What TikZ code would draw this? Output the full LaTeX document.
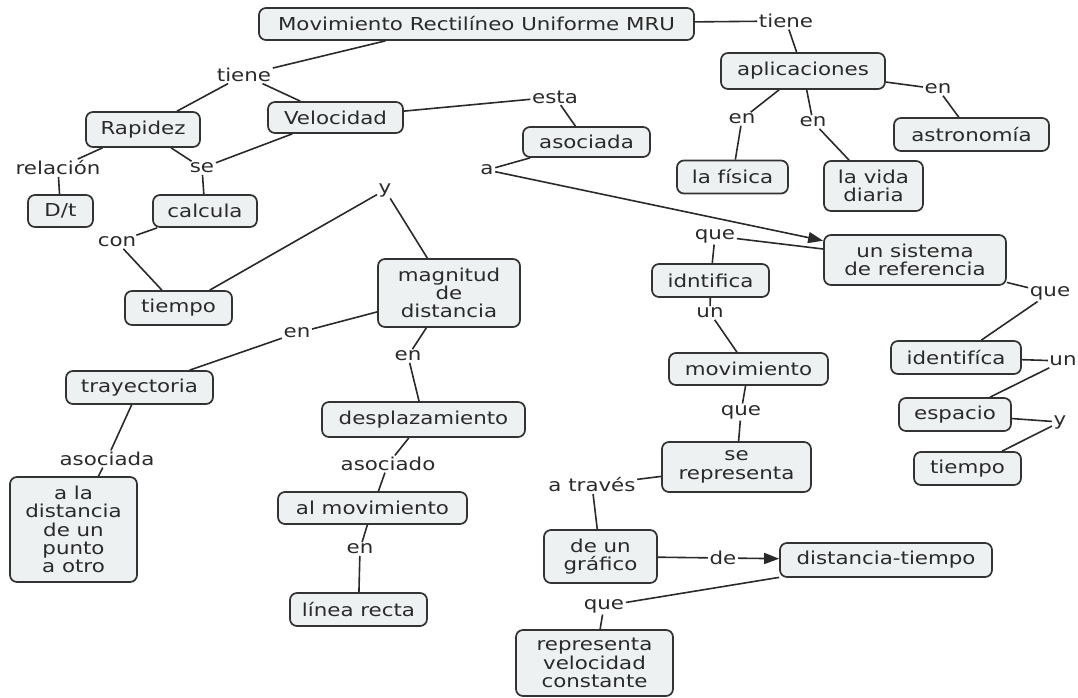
\documentclass[tikz,border=0pt]{standalone}
\usepackage{fontspec}
\setmainfont{DejaVu Sans}[FakeStretch=1.2]
\usetikzlibrary{arrows.meta}

\definecolor{ink}{HTML}{2A2A2A}
\definecolor{boxline}{HTML}{333333}
\definecolor{boxfill}{HTML}{EDF1F1}

\tikzset{
  mapfont/.style={font=\fontsize{17.8}{18.3}\selectfont, text=ink},
  concept/.style={mapfont, draw=boxline, fill=boxfill, line width=1.7pt,
    rounded corners=7pt, align=center, inner sep=2pt},
  phrase/.style={mapfont, inner sep=1.5pt},
  link/.style={draw=ink, line width=1.6pt},
  arrowlink/.style={-{Triangle[length=15pt,width=11pt]}}
}

\begin{document}
\begin{tikzpicture}[x=1pt, y=-1pt]
\useasboundingbox (0,0) rectangle (1078,698);

% ---- concepts ----
\node[concept, minimum width=435pt, minimum height=32pt] (mru) at (476.5,24) {Movimiento Rectilíneo Uniforme MRU};
\node[concept, minimum width=164pt, minimum height=36pt] (apl) at (803,71) {aplicaciones};
\node[concept, minimum width=155pt, minimum height=33pt] (astro) at (971.5,134.5) {astronomía};
\node[concept, minimum width=111pt, minimum height=33pt] (fisica) at (732.5,177) {la física};
\node[concept, minimum width=99pt, minimum height=50pt] (vida) at (873.5,186) {la vida\\diaria};
\node[concept, minimum width=114pt, minimum height=35pt] (rapidez) at (143,129.5) {Rapidez};
\node[concept, minimum width=135pt, minimum height=31pt] (velocidad) at (335.5,117.5) {Velocidad};
\node[concept, minimum width=65pt, minimum height=32pt] (dt) at (60.5,211) {D/t};
\node[concept, minimum width=104pt, minimum height=32pt] (calcula) at (205,211) {calcula};
\node[concept, minimum width=127pt, minimum height=30pt] (asociadaC) at (586.5,142) {asociada};
\node[concept, minimum width=107pt, minimum height=34pt] (tiempoL) at (178.5,308) {tiempo};
\node[concept, minimum width=142pt, minimum height=68pt] (magnitud) at (449,293) {magnitud\\de\\distancia};
\node[concept, minimum width=147pt, minimum height=33pt] (trayectoria) at (139.5,387.5) {trayectoria};
\node[concept, minimum width=203pt, minimum height=35pt] (despl) at (423.5,419.5) {desplazamiento};
\node[concept, minimum width=127pt, minimum height=105pt] (dist) at (73.5,529.5) {a la\\distancia\\de un\\punto\\a otro};
\node[concept, minimum width=189pt, minimum height=32pt] (almov) at (372.5,508) {al movimiento};
\node[concept, minimum width=137pt, minimum height=33pt] (linea) at (358.5,609.5) {línea recta};
\node[concept, minimum width=182pt, minimum height=50pt] (sistema) at (915,260) {un sistema\\de referencia};
\node[concept, minimum width=117pt, minimum height=33pt] (idntifica) at (710.5,280.5) {idntifica};
\node[concept, minimum width=159pt, minimum height=32pt] (movimiento) at (748.5,369) {movimiento};
\node[concept, minimum width=149pt, minimum height=50pt] (serep) at (736.5,467) {se\\representa};
\node[concept, minimum width=113pt, minimum height=53pt] (grafico) at (600.5,556.5) {de un\\gráfico};
\node[concept, minimum width=212pt, minimum height=34pt] (disttiempo) at (886,560) {distancia-tiempo};
\node[concept, minimum width=157pt, minimum height=66pt] (repvel) at (594.5,663) {representa\\velocidad\\constante};
\node[concept, minimum width=130pt, minimum height=33pt] (identifica) at (956,357.5) {identifíca};
\node[concept, minimum width=112pt, minimum height=33pt] (espacio) at (955,414.5) {espacio};
\node[concept, minimum width=107pt, minimum height=33pt] (tiempoR) at (967.5,468.5) {tiempo};

% ---- linking phrases ----
\node[phrase] (tieneL) at (244,75) {tiene};
\node[phrase] (tieneR) at (786,21) {tiene};
\node[phrase] (enL) at (742,119) {en};
\node[phrase] (enM) at (813,122) {en};
\node[phrase] (enR) at (938,89) {en};
\node[phrase] (esta) at (555,97) {esta};
\node[phrase] (aLbl) at (487,170) {a};
\node[phrase] (relacion) at (58,168) {relación};
\node[phrase] (se) at (202,168) {se};
\node[phrase] (con) at (117,242) {con};
\node[phrase] (yTop) at (385,190) {y};
\node[phrase] (enA) at (297,333) {en};
\node[phrase] (enB) at (408,356) {en};
\node[phrase] (asociadaL) at (107,459) {asociada};
\node[phrase] (asociado) at (388,464) {asociado};
\node[phrase] (enC) at (360,549) {en};
\node[phrase] (queTop) at (715,236) {que};
\node[phrase] (un1) at (710,313) {un};
\node[phrase] (que2) at (741,412) {que};
\node[phrase] (atraves) at (592,485) {a través};
\node[phrase] (de) at (723,558) {de};
\node[phrase] (queBot) at (604,606) {que};
\node[phrase] (queR) at (1050,293) {que};
\node[phrase] (unR) at (1063,361) {un};
\node[phrase] (yR) at (1060,422) {y};

% ---- connectors ----
\draw[link] ([xshift=-91pt]mru.south) -- (tieneL);
\draw[link] (tieneL) -- (rapidez);
\draw[link] (tieneL) -- (velocidad);
\draw[link] (mru) -- (tieneR);
\draw[link] (tieneR) -- (apl);
\draw[link] (apl) -- (enL);
\draw[link] (enL) -- (fisica);
\draw[link] (apl) -- (enM);
\draw[link] (enM) -- (vida);
\draw[link] (apl) -- (enR);
\draw[link] (enR) -- (astro);
\draw[link] (velocidad) -- (esta);
\draw[link] (esta) -- (asociadaC);
\draw[link] (asociadaC) -- (aLbl);
\draw[link, arrowlink] (aLbl) -- (sistema);
\draw[link] (rapidez) -- (relacion);
\draw[link] (relacion) -- (dt);
\draw[link] (rapidez) -- (se);
\draw[link] (velocidad) -- (se);
\draw[link] (se) -- (calcula);
\draw[link] (calcula) -- (con);
\draw[link] (con) -- (tiempoL);
\draw[link] (tiempoL) -- (yTop);
\draw[link] (yTop) -- (magnitud);
\draw[link] (magnitud) -- (enA);
\draw[link] (enA) -- (trayectoria);
\draw[link] (magnitud) -- (enB);
\draw[link] (enB) -- (despl);
\draw[link] (trayectoria) -- (asociadaL);
\draw[link] (asociadaL) -- ([xshift=25pt]dist.north);
\draw[link] (despl) -- (asociado);
\draw[link] (asociado) -- (almov);
\draw[link] (almov) -- (enC);
\draw[link] (enC) -- (linea);
\draw[link] (sistema) -- (queTop);
\draw[link] (queTop) -- (idntifica);
\draw[link] (idntifica) -- (un1);
\draw[link] (un1) -- (movimiento);
\draw[link] (movimiento) -- (que2);
\draw[link] (que2) -- (serep);
\draw[link] (serep) -- (atraves);
\draw[link] (atraves) -- (grafico);
\draw[link] (grafico) -- (de);
\draw[link, arrowlink] (de) -- (disttiempo);
\draw[link] (disttiempo) -- (queBot);
\draw[link] (queBot) -- (repvel);
\draw[link] (sistema) -- (queR);
\draw[link] (queR) -- (identifica);
\draw[link] (identifica) -- (unR);
\draw[link] (unR) -- (espacio);
\draw[link] (espacio) -- (yR);
\draw[link] (yR) -- (tiempoR);
\end{tikzpicture}
\end{document}
